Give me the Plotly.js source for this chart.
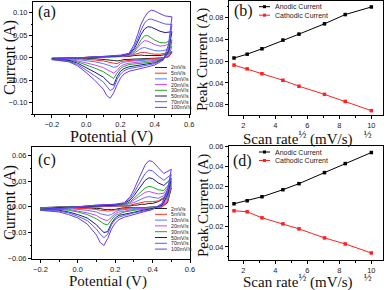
<!DOCTYPE html>
<html><head><meta charset="utf-8">
<script src="https://cdn.plot.ly/plotly-3.0.1.min.js"></script>
<style>html,body{margin:0;padding:0;background:#fff}#chart{width:387px;height:290px}</style>
</head><body><div id="chart"></div>
<script>
// ---------- data ----------
const scanRates = ['2mV/s','5mV/s','10mV/s','20mV/s','30mV/s','50mV/s','70mV/s','100mV/s'];
const rateColors = ['#222222','#ff2a2a','#5577ff','#cc44ff','#22aa22','#1a1a8c','#5a5aff','#6a3ce6'];

// potentials (V): forward (anodic) sweep and reverse (cathodic) sweep
const potentialForward = [-0.2, -0.1, 0.0, 0.1, 0.2, 0.25, 0.28, 0.3, 0.32, 0.34, 0.36, 0.38, 0.4, 0.43, 0.46, 0.5];
const potentialReverse = [0.48, 0.45, 0.4, 0.35, 0.3, 0.25, 0.22, 0.2, 0.18, 0.16, 0.14, 0.12, 0.1, 0.05, 0.0, -0.05, -0.1, -0.2];

// panel (a) currents (A)
const aFwd2   = [-0.001, 0.0, 0.0, 0.001, 0.002, 0.003, 0.005, 0.006, 0.006, 0.005, 0.005, 0.004, 0.004, 0.005, 0.007, 0.012];
const aFwd5   = [-0.002, -0.001, 0.0, 0.001, 0.002, 0.004, 0.007, 0.010, 0.012, 0.012, 0.010, 0.009, 0.008, 0.008, 0.010, 0.014];
const aFwd10  = [-0.002, -0.001, 0.0, 0.001, 0.003, 0.005, 0.010, 0.016, 0.021, 0.023, 0.021, 0.018, 0.016, 0.015, 0.017, 0.025];
const aFwd20  = [-0.003, -0.001, 0.0, 0.002, 0.003, 0.006, 0.013, 0.022, 0.032, 0.038, 0.037, 0.033, 0.029, 0.026, 0.027, 0.035];
const aFwd30  = [-0.003, -0.001, 0.0, 0.002, 0.004, 0.007, 0.016, 0.027, 0.040, 0.049, 0.049, 0.044, 0.039, 0.034, 0.033, 0.040];
const aFwd50  = [-0.003, -0.001, 0.001, 0.002, 0.004, 0.008, 0.020, 0.035, 0.052, 0.064, 0.069, 0.068, 0.064, 0.059, 0.056, 0.058];
const aFwd70  = [-0.004, -0.001, 0.001, 0.003, 0.005, 0.009, 0.024, 0.042, 0.062, 0.077, 0.085, 0.086, 0.083, 0.078, 0.075, 0.074];
const aFwd100 = [-0.004, -0.001, 0.001, 0.003, 0.006, 0.010, 0.030, 0.052, 0.075, 0.090, 0.101, 0.106, 0.104, 0.098, 0.093, 0.091];

const aRev2   = [0.002, 0.0, -0.001, -0.002, -0.002, -0.003, -0.004, -0.006, -0.007, -0.006, -0.005, -0.004, -0.003, -0.002, -0.002, -0.001, -0.001, -0.001];
const aRev5   = [0.003, 0.0, -0.002, -0.003, -0.004, -0.005, -0.007, -0.009, -0.013, -0.012, -0.010, -0.008, -0.007, -0.005, -0.003, -0.002, -0.002, -0.002];
const aRev10  = [0.005, -0.001, -0.004, -0.005, -0.006, -0.008, -0.010, -0.013, -0.020, -0.021, -0.018, -0.015, -0.013, -0.009, -0.006, -0.004, -0.003, -0.002];
const aRev20  = [0.008, -0.001, -0.006, -0.008, -0.010, -0.012, -0.015, -0.019, -0.028, -0.034, -0.030, -0.026, -0.022, -0.016, -0.011, -0.007, -0.004, -0.003];
const aRev30  = [0.010, -0.002, -0.008, -0.011, -0.013, -0.015, -0.019, -0.024, -0.034, -0.046, -0.041, -0.036, -0.031, -0.023, -0.016, -0.009, -0.005, -0.003];
const aRev50  = [0.015, -0.003, -0.011, -0.014, -0.017, -0.020, -0.024, -0.030, -0.042, -0.061, -0.058, -0.050, -0.043, -0.032, -0.022, -0.012, -0.006, -0.003];
const aRev70  = [0.020, -0.004, -0.013, -0.017, -0.020, -0.024, -0.029, -0.036, -0.048, -0.068, -0.073, -0.064, -0.054, -0.040, -0.027, -0.015, -0.008, -0.004];
const aRev100 = [0.030, -0.005, -0.016, -0.021, -0.025, -0.030, -0.036, -0.045, -0.060, -0.078, -0.090, -0.084, -0.070, -0.050, -0.033, -0.018, -0.009, -0.004];

// panel (c) currents (A)
const cFwd2   = [-0.001, 0.0, 0.0, 0.0, 0.001, 0.001, 0.001, 0.002, 0.002, 0.003, 0.003, 0.004, 0.004, 0.006, 0.010, 0.022];
const cFwd5   = [-0.001, -0.001, 0.0, 0.0, 0.001, 0.001, 0.002, 0.003, 0.004, 0.005, 0.006, 0.006, 0.006, 0.007, 0.011, 0.024];
const cFwd10  = [-0.002, -0.001, 0.0, 0.001, 0.001, 0.002, 0.004, 0.005, 0.007, 0.009, 0.011, 0.012, 0.011, 0.010, 0.013, 0.026];
const cFwd20  = [-0.002, -0.001, 0.0, 0.001, 0.002, 0.003, 0.005, 0.008, 0.011, 0.014, 0.017, 0.018, 0.017, 0.015, 0.016, 0.028];
const cFwd30  = [-0.002, -0.001, 0.0, 0.001, 0.002, 0.003, 0.006, 0.010, 0.014, 0.019, 0.022, 0.024, 0.023, 0.020, 0.019, 0.030];
const cFwd50  = [-0.003, -0.001, 0.0, 0.001, 0.002, 0.004, 0.008, 0.013, 0.019, 0.026, 0.031, 0.034, 0.033, 0.028, 0.025, 0.033];
const cFwd70  = [-0.003, -0.002, 0.0, 0.002, 0.003, 0.004, 0.010, 0.016, 0.024, 0.032, 0.039, 0.043, 0.042, 0.036, 0.031, 0.038];
const cFwd100 = [-0.004, -0.002, 0.0, 0.002, 0.003, 0.005, 0.012, 0.020, 0.030, 0.040, 0.049, 0.054, 0.053, 0.046, 0.039, 0.044];

const cRev2   = [0.005, 0.0, 0.0, -0.001, -0.001, -0.001, -0.002, -0.003, -0.003, -0.003, -0.003, -0.002, -0.002, -0.001, -0.001, -0.001, -0.001, -0.001];
const cRev5   = [0.006, 0.0, -0.001, -0.001, -0.001, -0.002, -0.003, -0.004, -0.005, -0.005, -0.004, -0.004, -0.003, -0.002, -0.002, -0.001, -0.001, -0.001];
const cRev10  = [0.008, 0.001, -0.001, -0.002, -0.002, -0.003, -0.004, -0.006, -0.009, -0.010, -0.009, -0.008, -0.006, -0.004, -0.003, -0.002, -0.002, -0.002];
const cRev20  = [0.010, 0.001, -0.001, -0.002, -0.003, -0.005, -0.006, -0.008, -0.012, -0.016, -0.015, -0.013, -0.010, -0.007, -0.005, -0.003, -0.003, -0.002];
const cRev30  = [0.012, 0.002, -0.002, -0.003, -0.004, -0.006, -0.008, -0.010, -0.015, -0.021, -0.020, -0.017, -0.014, -0.009, -0.006, -0.004, -0.003, -0.003];
const cRev50  = [0.014, 0.002, -0.002, -0.004, -0.006, -0.008, -0.010, -0.013, -0.019, -0.029, -0.030, -0.026, -0.021, -0.013, -0.009, -0.006, -0.004, -0.003];
const cRev70  = [0.017, 0.003, -0.003, -0.005, -0.007, -0.010, -0.012, -0.015, -0.021, -0.032, -0.036, -0.032, -0.026, -0.016, -0.011, -0.007, -0.005, -0.004];
const cRev100 = [0.020, 0.004, -0.003, -0.006, -0.009, -0.012, -0.015, -0.019, -0.026, -0.037, -0.045, -0.042, -0.033, -0.020, -0.013, -0.009, -0.006, -0.004];

// peak currents vs sqrt(scan rate)
const sqrtScanRate = [1.414, 2.236, 3.162, 4.472, 5.477, 7.071, 8.367, 10.0];
const bAnodic   = [0.006, 0.013, 0.023, 0.039, 0.050, 0.069, 0.086, 0.100];
const bCathodic = [-0.007, -0.014, -0.023, -0.035, -0.046, -0.061, -0.074, -0.091];
const dAnodic   = [0.003, 0.006, 0.010, 0.017, 0.023, 0.034, 0.043, 0.054];
const dCathodic = [-0.004, -0.005, -0.011, -0.017, -0.022, -0.031, -0.037, -0.046];
const peakNames  = ['Anodic Current', 'Cathodic Current'];
const peakColors = ['#000000', '#ff2020'];

// ---------- build ----------
const aFwd = [aFwd2,aFwd5,aFwd10,aFwd20,aFwd30,aFwd50,aFwd70,aFwd100];
const aRev = [aRev2,aRev5,aRev10,aRev20,aRev30,aRev50,aRev70,aRev100];
const cFwd = [cFwd2,cFwd5,cFwd10,cFwd20,cFwd30,cFwd50,cFwd70,cFwd100];
const cRev = [cRev2,cRev5,cRev10,cRev20,cRev30,cRev50,cRev70,cRev100];
const potentialLoop = potentialForward.concat(potentialReverse);

const traces = [];
function addCV(fwd, rev, xa, ya) {
  scanRates.forEach((name, i) => {
    traces.push({type:'scatter', mode:'lines', name:name, showlegend:false,
      x: potentialLoop, y: fwd[i].concat(rev[i]), xaxis: xa, yaxis: ya,
      line:{color: rateColors[i], width:1, shape:'linear'}});
  });
}
addCV(aFwd, aRev, 'x', 'y');
addCV(cFwd, cRev, 'x3', 'y3');
function addPeaks(an, ca, xa, ya) {
  [an, ca].forEach((vals, i) => {
    traces.push({type:'scatter', mode:'lines+markers', name:peakNames[i], showlegend:false,
      x: sqrtScanRate, y: vals, xaxis: xa, yaxis: ya,
      line:{color: peakColors[i], width:1},
      marker:{symbol:'square', size:3.5, color: peakColors[i]}});
  });
}
addPeaks(bAnodic, bCathodic, 'x2', 'y2');
addPeaks(dAnodic, dCathodic, 'x4', 'y4');

// ---------- layout ----------
const W = 387, H = 290;
const px = v => v / W, py = v => 1 - v / H;
const sansFont = 'Liberation Sans, Arial, sans-serif';
const serifFont = 'Liberation Serif, Times New Roman, serif';

function ax(extra) {
  return Object.assign({
    showline:true, linecolor:'#000', linewidth:1, mirror:true,
    ticks:'outside', ticklen:3, tickwidth:1, tickcolor:'#000',
    tickfont:{family:sansFont, size:7.5, color:'#222'},
    zeroline:false, showgrid:false
  }, extra);
}
const minorTicks = d => ({dtick:d, ticks:'outside', ticklen:1.5, tickcolor:'#000'});

const layout = {
  width:W, height:H, margin:{l:0,r:0,t:0,b:0},
  paper_bgcolor:'#fff', plot_bgcolor:'#fff', showlegend:false,
  xaxis:  ax({domain:[px(33),px(190)], anchor:'y', range:[-0.31,0.605], dtick:0.2, tickformat:'.1f', minor:minorTicks(0.1)}),
  yaxis:  ax({domain:[py(114),py(2)], anchor:'x', range:[-0.125,0.124], dtick:0.05, tickformat:'.2f', minor:minorTicks(0.025)}),
  xaxis2: ax({domain:[px(229),px(383)], anchor:'y2', range:[1.1,10.73], dtick:2, minor:minorTicks(1)}),
  yaxis2: ax({domain:[py(115),py(1)], anchor:'x2', range:[-0.099,0.111], dtick:0.04, tickformat:'.2f', minor:minorTicks(0.02)}),
  xaxis3: ax({domain:[px(32),px(190)], anchor:'y3', range:[-0.245,0.6], dtick:0.2, tickformat:'.1f', minor:minorTicks(0.1)}),
  yaxis3: ax({domain:[py(259),py(147)], anchor:'x3', range:[-0.061,0.070], dtick:0.03, tickformat:'.2f', minor:minorTicks(0.015)}),
  xaxis4: ax({domain:[px(229),px(383)], anchor:'y4', range:[1.1,10.73], dtick:2, minor:minorTicks(1)}),
  yaxis4: ax({domain:[py(260),py(146)], anchor:'x4', range:[-0.053,0.0605], dtick:0.02, tickformat:'.2f', minor:minorTicks(0.01)}),
  annotations:[], shapes:[]
};

function note(text, x, y, opts) {
  layout.annotations.push(Object.assign({text:text, x:px(x), y:py(y), xref:'paper', yref:'paper',
    showarrow:false, xanchor:'center', yanchor:'middle',
    font:{family:serifFont, size:16, color:'#111'}}, opts || {}));
}
const titleFont15 = {family:serifFont, size:15, color:'#111'};
// axis titles
note('Current (A)', 10, 58, {textangle:-90});
note('Potential (V)', 112, 137);
note('Peak Current (A)', 203, 60, {textangle:-90, font:titleFont15});
note('Scan rate<sup>½</sup> (mV/s)\u00a0\u00a0\u00a0<sup>½</sup>', 307, 138, {font:titleFont15});
note('Current (A)', 10, 203, {textangle:-90});
note('Potential (V)', 108, 281.5, {font:titleFont15});
note('Peak Current (A)', 203, 206, {textangle:-90, font:titleFont15});
note('Scan rate<sup>½</sup> (mV/s)\u00a0\u00a0\u00a0<sup>½</sup>', 307, 281.5, {font:titleFont15});
// panel labels
note('(a)', 36, 12, {xanchor:'left'});
note('(b)', 232, 11, {xanchor:'left'});
note('(c)', 36, 160, {xanchor:'left'});
note('(d)', 231, 161, {xanchor:'left'});

// compact legends drawn as shapes + labels (Plotly's own legend rows are too tall here)
function cvLegend(y0, step) {
  scanRates.forEach((name, i) => {
    const y = y0 + step * i;
    layout.shapes.push({type:'line', xref:'paper', yref:'paper', x0:px(155), x1:px(167), y0:py(y), y1:py(y),
      line:{color:rateColors[i], width:1}});
    note(name, 169, y, {xanchor:'left', font:{family:sansFont, size:5.2, color:'#222'}});
  });
}
cvLegend(67.5, 5.7);
cvLegend(208.5, 5.8);
function peakLegend(y0, step) {
  peakNames.forEach((name, i) => {
    const y = y0 + step * i;
    layout.shapes.push({type:'line', xref:'paper', yref:'paper', x0:px(259), x1:px(270), y0:py(y), y1:py(y),
      line:{color:peakColors[i], width:1}});
    layout.shapes.push({type:'rect', xref:'paper', yref:'paper', x0:px(263), x1:px(266), y0:py(y+1.5), y1:py(y-1.5),
      line:{width:0}, fillcolor:peakColors[i]});
    note(name, 273, y, {xanchor:'left', font:{family:sansFont, size:7, color:'#222'}});
  });
}
peakLegend(6.7, 8.5);
peakLegend(152, 8.5);

Plotly.newPlot('chart', traces, layout, {staticPlot:true, displayModeBar:false});
</script>
</body></html>
